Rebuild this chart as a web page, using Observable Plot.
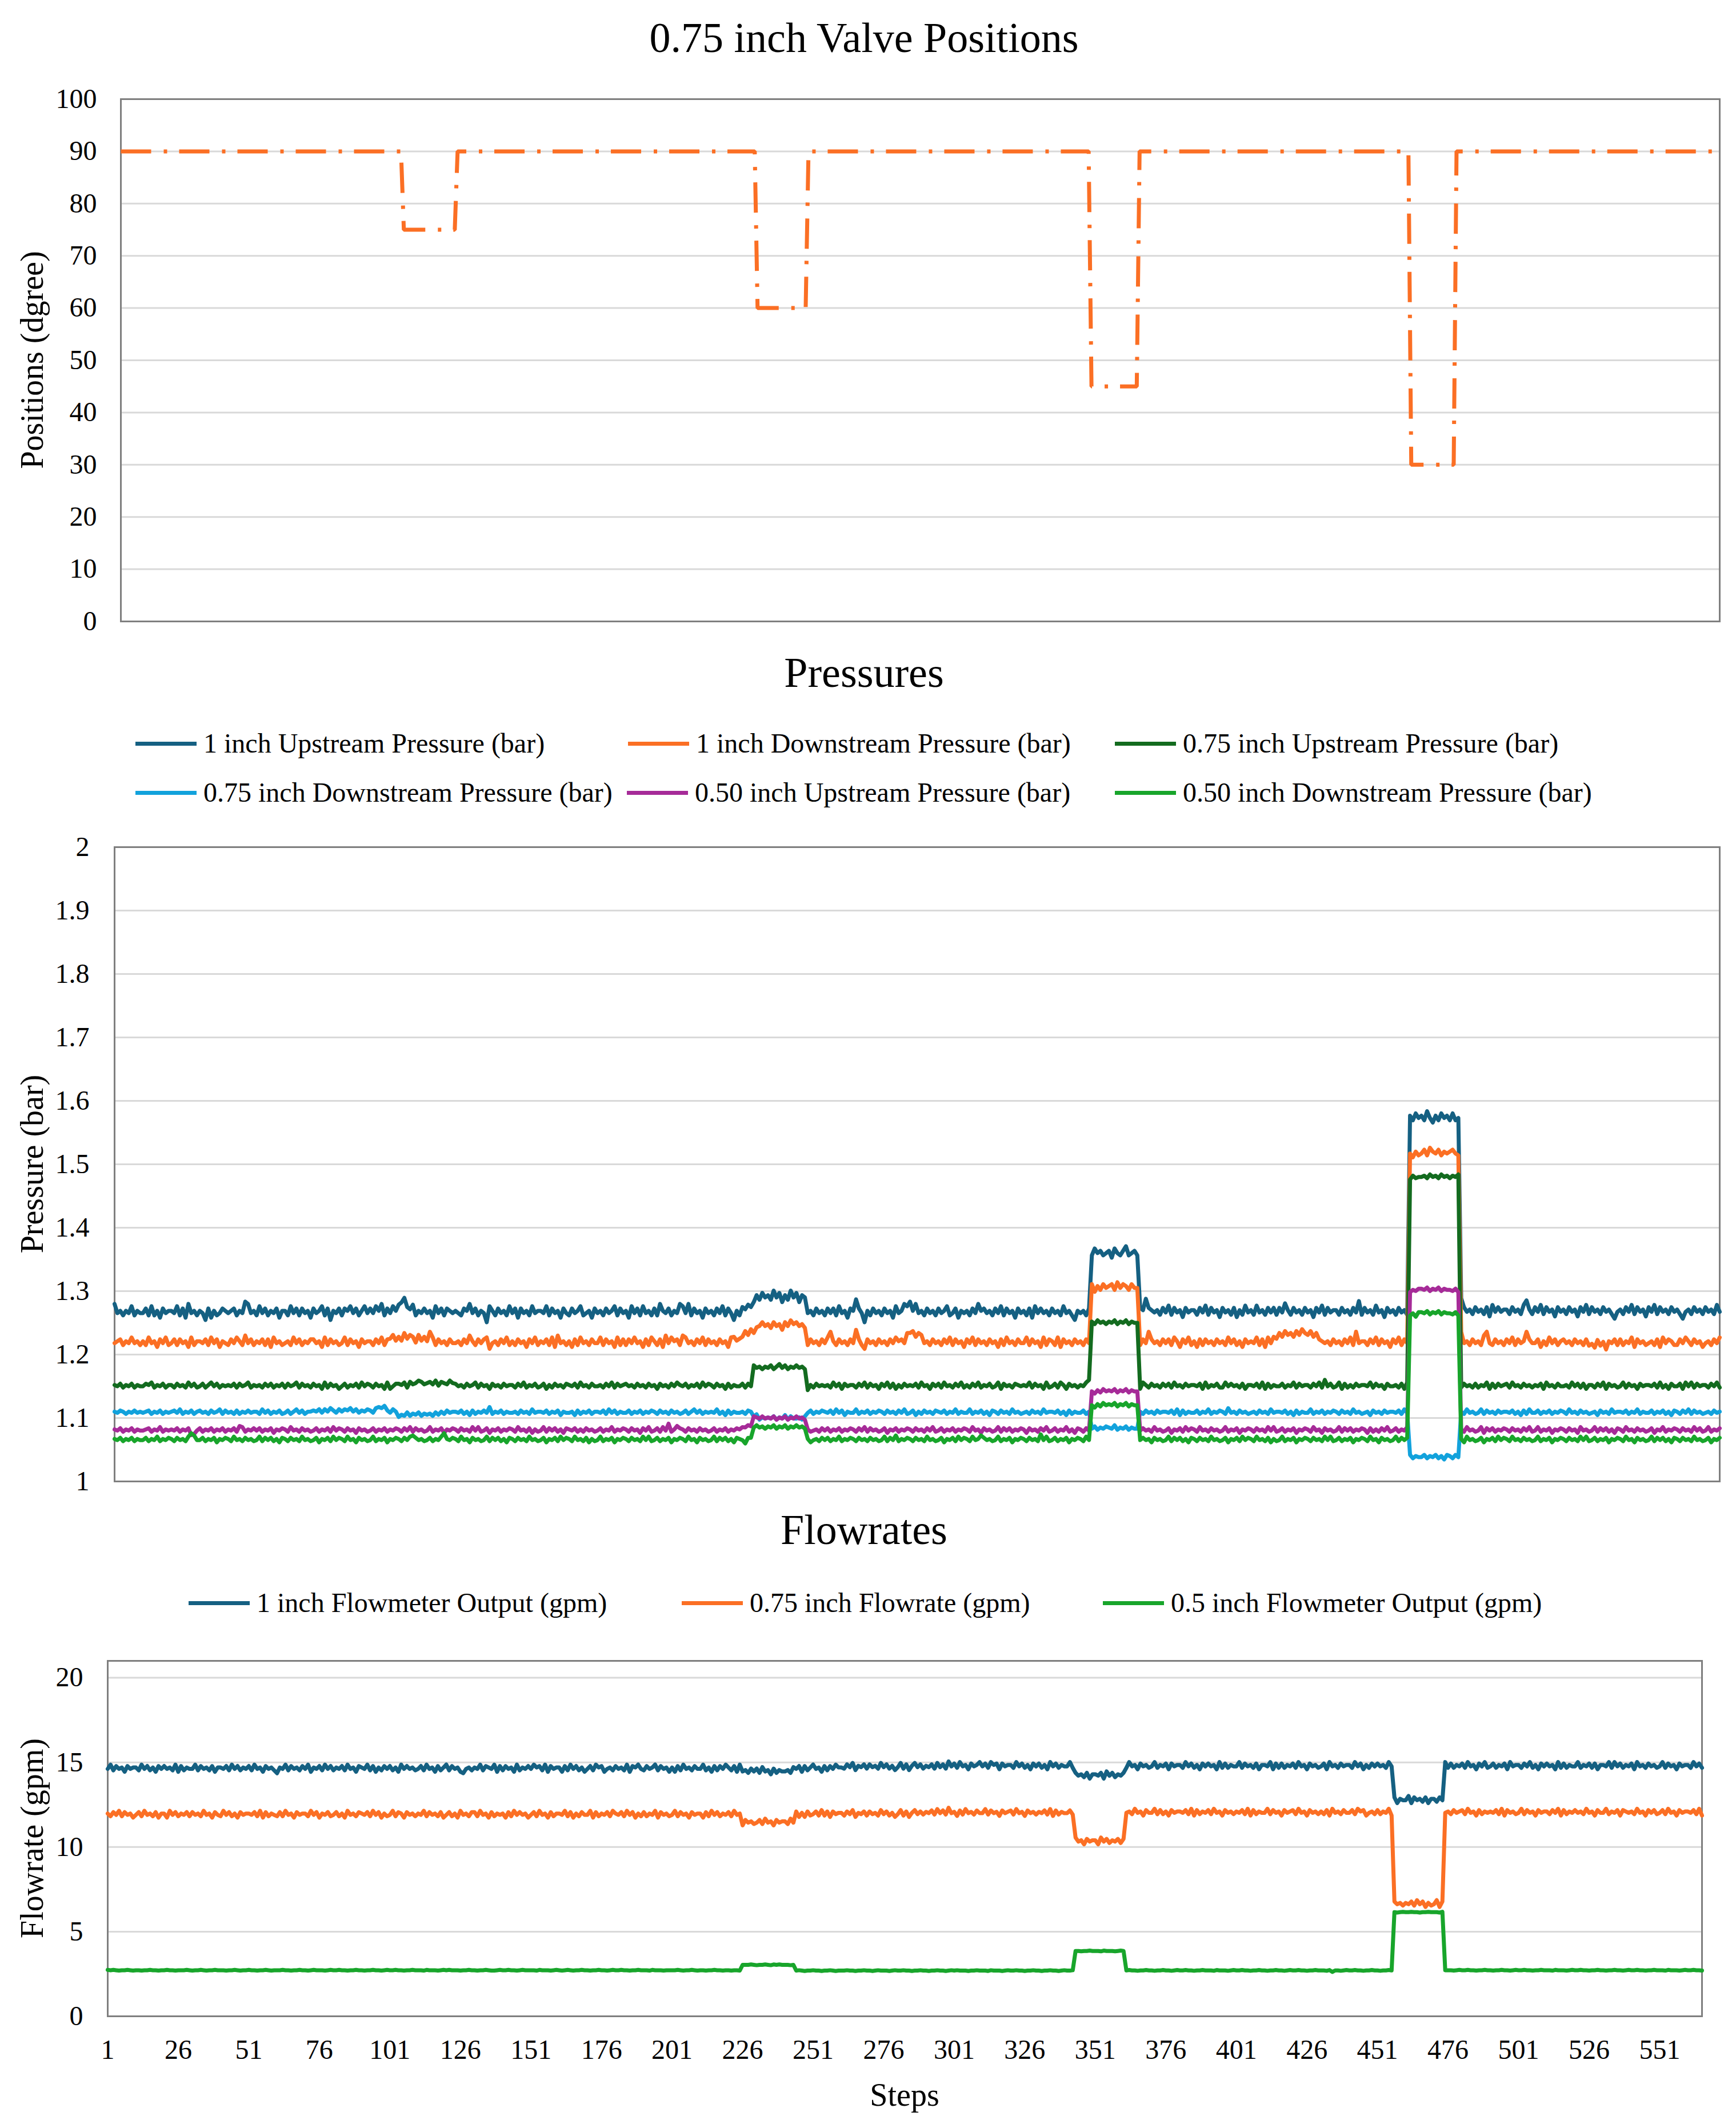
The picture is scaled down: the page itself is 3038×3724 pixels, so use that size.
<!DOCTYPE html>
<html>
<head>
<meta charset="utf-8">
<script src="https://cdn.jsdelivr.net/npm/d3@7"></script>
<script src="https://cdn.jsdelivr.net/npm/@observablehq/plot@0.6"></script>
<style>
html, body { margin: 0; padding: 0; background: #fff; }
#page { position: relative; width: 3038px; height: 3724px; font-family: "Liberation Serif", "Times New Roman", serif; color: #000; overflow: hidden; background: #fff; }
.abs { position: absolute; }
.title { font-size: 74px; white-space: nowrap; transform: translate(-50%, -50%); line-height: 1; }
.ylab { font-size: 56px; white-space: nowrap; transform: translate(-50%, -50%) rotate(-90deg); line-height: 1; }
.xlab { font-size: 56px; white-space: nowrap; transform: translate(-50%, -50%); line-height: 1; }
.leg { font-size: 48px; white-space: nowrap; display: flex; align-items: center; transform: translateY(-50%); line-height: 1; }
.sw { display: inline-block; width: 107px; height: 7px; margin-right: 12px; }
</style>
</head>
<body>
<div id="page"></div>
<script>
// ---------------- data ----------------
const stepCount = 566;
const xTickValues = [1, 26, 51, 76, 101, 126, 151, 176, 201, 226, 251, 276, 301, 326, 351, 376, 401, 426, 451, 476, 501, 526, 551];
const positionTicks = [0, 10, 20, 30, 40, 50, 60, 70, 80, 90, 100];
const pressureTicks = [1, 1.1, 1.2, 1.3, 1.4, 1.5, 1.6, 1.7, 1.8, 1.9, 2];
const flowTicks = [0, 5, 10, 15, 20];

// valve position: [first step, degree]
const positionLevels = [[1, 90], [101, 75], [120, 90], [226, 60], [244, 90], [344, 45], [361, 90], [457, 30], [473, 90]];

// Pressure series: level breakpoints [first step, bar] + per-step wiggle digits
const p1uLevels = [[1, 1.269], [101, 1.275], [107, 1.269], [222, 1.275], [226, 1.290], [245, 1.269], [345, 1.360], [362, 1.270], [457, 1.573], [475, 1.271]];
const p1uNoise = `8453547354 4637352645 5473628453 5416253465 4563549845 3746354625 5374636452 6457361546 3657463574 6475836475
6795463546 4527463654 5436584635 4075364537 4626453745 5473645264 3645734526 4536457364 5274637453 6385463548
7483645264 5364736415 3546536475 6485736485 7365453645 3646374526 5a64053645 3645274587 9584536453 6457346254
5364856453 6473645264 5362746453 6453745315 4536475645 6375468456 465a654536 4736452645 5364736452 6453625374
5374536463 6485364536 4526473645 5364536493 6453745264 5364536475 6485364756 4745a64536 4536274645 5364537953
6473645264 5364526473 6453645314 5364736452 6473645364 5314536453 6453745364`;

const p1dLevels = [[1, 1.221], [98, 1.225], [111, 1.221], [219, 1.225], [222, 1.231], [225, 1.237], [228, 1.242], [245, 1.221], [280, 1.228], [286, 1.221], [345, 1.305], [362, 1.221], [409, 1.228], [425, 1.221], [457, 1.517], [475, 1.221], [520, 1.217], [527, 1.221]];
const p1dNoise = `4563547453 5374526473 4636452735 5463746254 3647538463 5463627453 4537463546 6452736453 4736452645 5364736574
6485763746 5a73645364 4536485364 6714536473 5364526473 5463728453 5263745364 4736452736 3647452637 5362847563
8745364736 4536452764 5475647686 7586748697 8675364536 47a5364536 4b63164536 4536475647 7857645364 5364736452
6473645364 5263745364 4736452736 5372645364 5364736475 6748576475 5364a64536 4637526473 5263645364 5374635264
5473627454 7586758697 6857654536 4536473a45 5364736452 6473645364 5748657465 6754a45364 538a436453 6473645a64
4625374635 6453645364 5374625463 6354726453 4536274653 3647536452 4536478a45`;

const p075uLevels = [[1, 1.152], [105, 1.155], [121, 1.152], [226, 1.179], [245, 1.152], [344, 1.160], [345, 1.250], [362, 1.152], [457, 1.480], [475, 1.152]];
const p075uNoise = `5463546354 4657354635 5364537463 4635746354 5463645735 4536463546 3645736453 6452736452 4635463746 5364527246
6573645764 5647365475 6453645736 4526453645 5364735463 4625364536 5463745364 4536473645 6453645364 5264536475
4635463746 5364526354 4636475646 5746857465 7564153645 4537462645 5364736452 6473625364 5463745264 6374536473
5364735463 4726453654 5473645273 4637526453 5475647564 6574657465 5275364536 4637453645 5462735463 3746453625
5463726354 4635473645 5364739463 4726353645 5473645264 4536273645 5647564756 4657364536 3547263645 6374536453
5462745364 4537463625 5364726453 4736452645 5463735264 4627473645 5364736453`;

const p075dLevels = [[1, 1.110], [70, 1.112], [101, 1.107], [116, 1.110], [226, 1.104], [228, 1.101], [245, 1.110], [345, 1.085], [362, 1.110], [457, 1.040], [475, 1.110]];
const p075dNoise = `5465354645 4563546354 5647354635 6453645736 4536354645 5374635463 4635746354 5463647536 4657463546 5378795364
2436354635 4536453645 5463526354 6493546354 4536453745 5463546254 4526354635 5463746354 4635463546 5364536453
4635746354 5473526354 4536546354 5463547364 4536463546 5463746254 4735463546 5364536473 4625364536 5463547354
4735463526 5364537453 4536453745 5463526354 4635463546 5473546354 4536453645 5463726354 4635473546 5384536453
4536453745 5463526354 4735463546 5364537453 4526453645 5463746354 4635463526 5364537453 4736453645 5463526374
4635463546 5374536453 4526453745 5463547354 4635463526 5364736453 4536453646`;

const p050uLevels = [[1, 1.082], [223, 1.087], [226, 1.099], [245, 1.082], [345, 1.142], [362, 1.082], [457, 1.302], [475, 1.082]];
const p050uNoise = `5463546354 4563547354 5463546014 6354635463 5463873546 4635462546 5374536453 4635463746 5364526453 4635463546
5364736453 4735462546 5364537473 4625463546 5374536253 4736463526 5463536453 4635473546 5364526473 46374a3586
5364536453 4635463546 5746576575 6574657465 7564534536 4635463546 5364736453 4625463546 5364536473 4635463546
5374526453 4736463546 5264536473 4635473526 5364536475 6574657465 5464537453 4625463746 5374536453 4735462546
5364537473 4635462546 5374526453 4736463546 5263536473 4635473546 6574657465 5463537453 4726463546 5364536473
4735462546 5364527453 4736463526 5374536453 4625473546 5364537463 4735463546`;

const p050dLevels = [[1, 1.067], [226, 1.085], [245, 1.067], [345, 1.120], [362, 1.067], [457, 1.265], [475, 1.067]];
const p050dNoise = `5463546354 4635473546 5364537a84 4635462546 5374536453 4736463526 5364537453 4625463746 5374526453 4735462546
5364786453 463547a546 5374526453 4736463526 5364537453 4625463746 5374536253 4735462546 5364537473 4635462546
5374526453 4736463526 5416657564 6574657465 7564524536 4635473546 5364536453 4736483546 5364537453 4625463746
5374586453 4735462546 5364539473 4635462546 5374536475 6574657465 5464526453 4736463526 5364537453 4625463746
5374536253 4735462546 5364537473 4635462546 5374526453 4736463526 6574657465 5463527453 4625463746 5374536453
4735462546 5364537473 4635462546 5374526453 4736463526 5364537453 4625463746`;

// Flowrate series
const f1Levels = [[1, 14.70], [226, 14.55], [245, 14.70], [262, 14.80], [300, 14.85], [344, 14.30], [362, 14.85], [457, 12.85], [475, 14.85]];
const f1Noise = `4736452645 5374635264 6453726354 4736453625 5463746354 6374526453 1547364536 4725463746 3546374526 5473625364
6352746453 4637452635 7364521453 5473654726 3645273546 4756372645 5263746352 4637562453 6453726574 3645736452
5263745364 4735263647 5362745364 6374526354 4537462635 7452636475 5364725463 6453746352 4736257463 5463746384
6374526457 4637562645 5374635264 6352746354 4736453625 5462746354 6374526453 4735462645 5374635264 6452736354
4736453625 5472636354 6374526453 4627453645 5374625364 6453746254 4726453625 5364736354 6374526473 4635462745
5364735264 6452736354 4735463625 5473746354 6274536453 4736452645 5374635264`;

const f075Levels = [[1, 11.98], [226, 11.52], [245, 12.02], [290, 12.08], [344, 10.40], [362, 12.10], [457, 6.70], [475, 12.10]];
const f075Noise = `5364736452 4637453625 5274635463 6453745264 3746352645 5463726354 3637452645 5374625463 4635274536 5463746253
4736526453 5473645362 4635274536 6374526354 5263746452 4637452635 5473625364 4726354637 5463746253 6354726453
4736452645 5263746354 6374526453 4637452645 5374625263 4637362645 5364725463 6453746352 4736257463 5463746384
5263745364 4736452645 6374526453 5463726354 4637452645 5274635463 6453745264 4736352645 5463726354 6374526453
5463726354 4736452645 6374526453 5362745364 4637562453 6354726453 5463746253 4726453645 6374526354 5463726453
4736452645 5364726354 6453745264 4735462654 5374526463 4637452645 5463726354`;

const f05Levels = [[1, 2.72], [226, 3.04], [245, 2.70], [344, 3.86], [362, 2.71], [457, 6.15], [475, 2.72]];
const f05Noise = `6565455654 5545565545 5655455565 4556545565 5545565455 6554556545 5565545565 5456555456 5565545565 5455655456
5565545565 5546555456 5655545565 5455654456 5565545655 5546555456 5456545565 5455655456 5565545565 5546555455
5565455654 5545565545 5455455565 4556546565 5545565455 6554556545 5565545565 5456555456 5565545565 5455655456
5655545565 5546555456 5565545565 5455655456 5565545565 5546555456 5565545565 5455655456 5565545565 5546555456
5565545565 5455655456 5565545565 5546155456 5565545565 5455655456 5565545565 5546555456 5565545565 5455655456
5565545565 5546555456 5565545565 5455655456 5565545565 5546555456 5565545565`;

const positionColor = "#fb6f24";
const pressureNames = ["1 inch Upstream Pressure (bar)", "1 inch Downstream Pressure (bar)", "0.75 inch Upstream Pressure (bar)", "0.75 inch Downstream Pressure (bar)", "0.50 inch Upstream Pressure (bar)", "0.50 inch Downstream Pressure (bar)"];
const pressureColors = ["#156082", "#fb6f24", "#136b1f", "#12a2dc", "#a62b98", "#18a52b"];
const pressureUnits = [0.0036, 0.003, 0.002, 0.0018, 0.0018, 0.0018];
const flowNames = ["1 inch Flowmeter Output (gpm)", "0.75 inch Flowrate (gpm)", "0.5 inch Flowmeter Output (gpm)"];
const flowColors = ["#156082", "#fb6f24", "#18a52b"];
const flowUnits = [0.085, 0.08, 0.022];

// ---------------- decoding ----------------
const ALPHA = "0123456789abcdefgh";
function expand(levels, noise, unit) {
  const s = (noise || "").replace(/\s+/g, "");
  const out = [];
  let li = 0;
  for (let step = 1; step <= stepCount; step++) {
    while (li + 1 < levels.length && levels[li + 1][0] <= step) li++;
    const ch = s[step - 1];
    const d = ch === undefined ? 0 : ALPHA.indexOf(ch) - 5;
    out.push({ step, value: levels[li][1] + d * unit });
  }
  return out;
}

const positionData = expand(positionLevels, "", 0);
const pressureData = [
  expand(p1uLevels, p1uNoise, pressureUnits[0]),
  expand(p1dLevels, p1dNoise, pressureUnits[1]),
  expand(p075uLevels, p075uNoise, pressureUnits[2]),
  expand(p075dLevels, p075dNoise, pressureUnits[3]),
  expand(p050uLevels, p050uNoise, pressureUnits[4]),
  expand(p050dLevels, p050dNoise, pressureUnits[5])
];
const flowData = [
  expand(f1Levels, f1Noise, flowUnits[0]),
  expand(f075Levels, f075Noise, flowUnits[1]),
  expand(f05Levels, f05Noise, flowUnits[2])
];

// ---------------- layout helpers ----------------
const page = document.getElementById("page");
function addDiv(cls, text, left, top) {
  const d = document.createElement("div");
  d.className = "abs " + cls;
  d.style.left = left + "px";
  d.style.top = top + "px";
  d.textContent = text;
  page.appendChild(d);
  return d;
}
function addLegendItem(name, color, left, top) {
  const d = document.createElement("div");
  d.className = "abs leg";
  d.style.left = left + "px";
  d.style.top = top + "px";
  const sw = document.createElement("span");
  sw.className = "sw";
  sw.style.background = color;
  const t = document.createElement("span");
  t.textContent = name;
  d.appendChild(sw);
  d.appendChild(t);
  page.appendChild(d);
}
function addChart(svg, top) {
  const w = document.createElement("div");
  w.className = "abs";
  w.style.left = "0px";
  w.style.top = top + "px";
  w.appendChild(svg);
  page.appendChild(w);
}
const baseStyle = { fontFamily: '"Liberation Serif", "Times New Roman", serif', fontSize: "48px", color: "#000", background: "transparent", overflow: "visible" };
const grid = (ticks) => Plot.gridY(ticks, { stroke: "#d9d9d9", strokeOpacity: 1, strokeWidth: 3 });
const frame = () => Plot.frame({ stroke: "#7f7f7f", strokeWidth: 3 });

// ---------------- chart 1: valve positions ----------------
addDiv("title", "0.75 inch Valve Positions", 1512, 66);
const chart1 = Plot.plot({
  width: 3038, height: 987,
  marginLeft: 211, marginRight: 29, marginTop: 53, marginBottom: 20,
  style: baseStyle,
  x: { type: "linear", domain: [1, stepCount], axis: null },
  y: { domain: [0, 100] },
  marks: [
    grid(positionTicks),
    frame(),
    Plot.axisY({ ticks: positionTicks, tickSize: 0, tickPadding: 42, tickFormat: d => String(d), label: null }),
    Plot.line(positionData, { x: "step", y: "value", stroke: positionColor, strokeWidth: 7, strokeDasharray: "53,22,6,21", strokeLinecap: "butt", strokeLinejoin: "miter" })
  ]
});
addChart(chart1, 120);
addDiv("ylab", "Positions (dgree)", 56, 630);

// ---------------- chart 2: pressures ----------------
addDiv("title", "Pressures", 1512, 1177);
const legendCols = [237, 1099, 1951];
pressureNames.forEach((n, i) => addLegendItem(n, pressureColors[i], legendCols[i % 3] - (i === 4 ? 2 : 0), i < 3 ? 1301 : 1387));
const chart2 = Plot.plot({
  width: 3038, height: 1172,
  marginLeft: 200, marginRight: 29, marginTop: 42, marginBottom: 20,
  style: baseStyle,
  x: { type: "linear", domain: [1, stepCount], axis: null },
  y: { domain: [1, 2] },
  marks: [
    grid(pressureTicks),
    frame(),
    Plot.axisY({ ticks: pressureTicks, tickSize: 0, tickPadding: 44, tickFormat: d => String(Math.round(d * 10) / 10), label: null }),
    ...pressureData.map((data, i) => Plot.line(data, { x: "step", y: "value", stroke: pressureColors[i], strokeWidth: 7 }))
  ]
});
addChart(chart2, 1440);
addDiv("ylab", "Pressure (bar)", 56, 2037);

// ---------------- chart 3: flowrates ----------------
addDiv("title", "Flowrates", 1512, 2677);
const flowCols = [330, 1193, 1930];
flowNames.forEach((n, i) => addLegendItem(n, flowColors[i], flowCols[i], 2805));
const chart3 = Plot.plot({
  width: 3038, height: 768,
  marginLeft: 188, marginRight: 60, marginTop: 46, marginBottom: 100,
  style: baseStyle,
  x: { type: "linear", domain: [1, stepCount] },
  y: { domain: [0, 21] },
  marks: [
    grid(flowTicks.filter(t => t > 0)),
    frame(),
    Plot.axisY({ ticks: flowTicks, tickSize: 0, tickPadding: 43, tickFormat: d => String(d), label: null }),
    Plot.axisX({ ticks: xTickValues, tickSize: 0, tickPadding: 40, tickFormat: d => String(d), label: null }),
    ...flowData.map((data, i) => Plot.line(data, { x: "step", y: "value", stroke: flowColors[i], strokeWidth: 7 }))
  ]
});
addChart(chart3, 2860);
addDiv("ylab", "Flowrate (gpm)", 56, 3217);
addDiv("xlab", "Steps", 1583, 3666);
</script>
</body>
</html>
